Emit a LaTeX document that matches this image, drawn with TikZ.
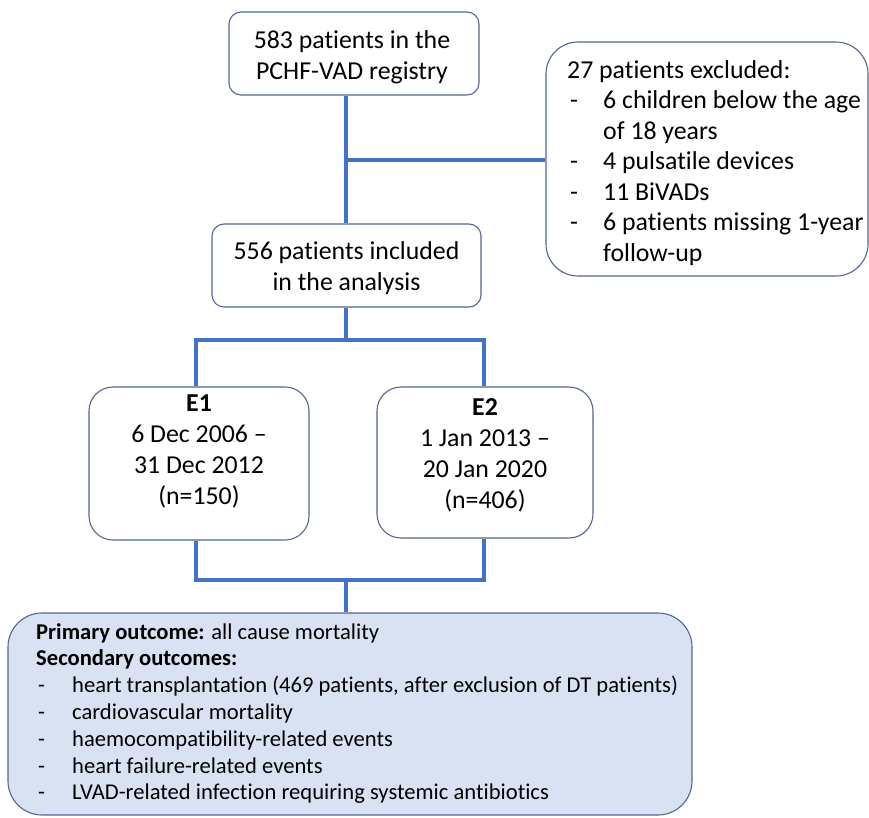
\documentclass[tikz,border=0pt]{standalone}
\usepackage{fontspec}
\setmainfont{Carlito}[RawFeature={-liga;-clig;-dlig}]
\definecolor{conn}{HTML}{4472C4}
\definecolor{bord}{HTML}{55678F}
\definecolor{lfill}{HTML}{D9E2F3}
\newcommand{\bdash}{\hspace*{3pt}\makebox[33pt][l]{-}}
\newcommand{\bind}{\hspace*{36pt}}
\newcommand{\odash}{\hspace*{2pt}\makebox[34pt][l]{-}}
\begin{document}
\begin{tikzpicture}[x=1pt,y=-1pt,
  box/.style={draw=bord,line width=1.1pt,fill=white,inner sep=0pt},
  conline/.style={draw=conn,line width=4pt,line cap=butt,line join=miter},
  main/.style={font=\fontsize{25.8}{31}\selectfont},
  outc/.style={font=\fontsize{22.6}{26.8}\selectfont}]
\useasboundingbox (0,0) rectangle (869,817);
% boxes
\node[box,rounded corners=12pt,minimum width=250pt,minimum height=83pt] (A) at (354,53.5) {};
\node[main,align=center,inner sep=0pt] (At) at (352,57) {583 patients in the\\PCHF-VAD registry};
\node[box,rounded corners=32pt,minimum width=322pt,minimum height=234pt] (B) at (707,159) {};
\node[main,anchor=north west,align=left,inner sep=0pt,font=\fontsize{25.8}{30.5}\selectfont] (Bt) at (567,60) {27 patients excluded:\\
\bdash 6 children below the age\\
\bind of 18 years\\
\bdash 4 pulsatile devices\\
\bdash 11 BiVADs\\
\bdash 6 patients missing 1-year\\
\bind follow-up};
\node[box,rounded corners=12pt,minimum width=269pt,minimum height=83pt] (C) at (346.5,265.5) {};
\node[main,align=center,inner sep=0pt] (Ct) at (346.5,268) {556 patients included\\in the analysis};
\node[box,rounded corners=24pt,minimum width=220pt,minimum height=153pt] (E1) at (199,463.5) {};
\node[main,anchor=north,align=center,inner sep=0pt] (E1t) at (199,395) {\textbf{E1}\\6 Dec 2006 --\\31 Dec 2012\\(n=150)};
\node[box,rounded corners=24pt,minimum width=216pt,minimum height=151pt] (E2) at (485,462.5) {};
\node[main,anchor=north,align=center,inner sep=0pt] (E2t) at (485,398) {\textbf{E2}\\1 Jan 2013 --\\20 Jan 2020\\(n=406)};
\node[box,fill=lfill,rounded corners=34pt,minimum width=684pt,minimum height=202pt] (O) at (350,714) {};
\node[outc,anchor=north west,inner sep=0pt,align=left] (Ot) at (36,623) {\textbf{Primary outcome:} all cause mortality\\
\textbf{Secondary outcomes:}\\
\odash heart transplantation (469 patients, after exclusion of DT patients)\\
\odash cardiovascular mortality\\
\odash haemocompatibility-related events\\
\odash heart failure-related events\\
\odash LVAD-related infection requiring systemic antibiotics};
% connectors
\coordinate (j1) at (346,160);
\coordinate (j2) at (346,340);
\coordinate (l2) at (196,340);
\coordinate (r2) at (484,340);
\coordinate (l3) at (196,580);
\coordinate (r3) at (484,580);
\coordinate (j3) at (346,580);
\draw[conline] (A.south -| j1) -- (C.north -| j1);
\draw[conline] (j1) -- (B.west |- j1);
\draw[conline] (C.south -| j2) -- (j2);
\draw[conline] (E1.north -| l2) -- (l2) -- (r2) -- (E2.north -| r2);
\draw[conline] (E1.south -| l3) -- (l3) -- (r3) -- (E2.south -| r3);
\draw[conline] (j3) -- (O.north -| j3);
\end{tikzpicture}
\end{document}
